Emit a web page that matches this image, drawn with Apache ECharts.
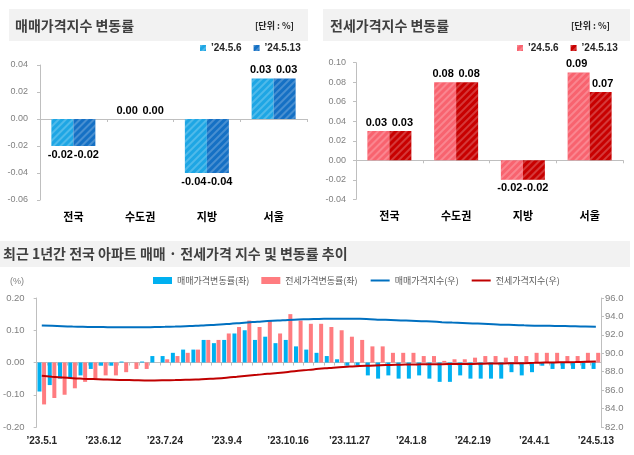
<!DOCTYPE html>
<html><head><meta charset="utf-8">
<script src="https://cdn.jsdelivr.net/npm/echarts@6/dist/echarts.min.js"></script>
<style>
html,body{margin:0;padding:0;background:#fff;width:634px;height:455px;overflow:hidden}
#a,#b,#c{position:absolute}
#a{left:0;top:0;width:317px;height:235px}
#b{left:317px;top:0;width:317px;height:235px}
#c{left:0;top:235px;width:634px;height:220px}
</style></head><body>
<div id="a"></div><div id="b"></div><div id="c"></div>
<script>
// ---------- data ----------
const regionCats = ['전국', '수도권', '지방', '서울'];
const legendPrev = '\u201924.5.6';
const legendCurr = '\u201924.5.13';
const salePrev = [-0.02, 0.00, -0.04, 0.03];
const saleCurr = [-0.02, 0.00, -0.04, 0.03];
const jeonsePrev = [0.03, 0.08, -0.02, 0.09];
const jeonseCurr = [0.03, 0.08, -0.02, 0.07];

const weeks = [
  '\u201923.5.1','\u201923.5.8','\u201923.5.15','\u201923.5.22','\u201923.5.29','\u201923.6.5','\u201923.6.12','\u201923.6.19','\u201923.6.26',
  '\u201923.7.3','\u201923.7.10','\u201923.7.17','\u201923.7.24','\u201923.7.31','\u201923.8.7','\u201923.8.14','\u201923.8.21','\u201923.8.28',
  '\u201923.9.4','\u201923.9.11','\u201923.9.18','\u201923.9.25','\u201923.10.2','\u201923.10.9','\u201923.10.16','\u201923.10.23','\u201923.10.30',
  '\u201923.11.6','\u201923.11.13','\u201923.11.20','\u201923.11.27','\u201923.12.4','\u201923.12.11','\u201923.12.18','\u201923.12.25',
  '\u201924.1.1','\u201924.1.8','\u201924.1.15','\u201924.1.22','\u201924.1.29','\u201924.2.5','\u201924.2.12','\u201924.2.19','\u201924.2.26',
  '\u201924.3.4','\u201924.3.11','\u201924.3.18','\u201924.3.25','\u201924.4.1','\u201924.4.8','\u201924.4.15','\u201924.4.22','\u201924.4.29',
  '\u201924.5.6','\u201924.5.13'
];
const saleChange = [
  -0.09, -0.07, -0.05, -0.05, -0.04, -0.02, -0.01, -0.01, 0.003, 0.00,
  0.003, 0.02, 0.02, 0.03, 0.04, 0.04, 0.07, 0.06, 0.07, 0.09,
  0.10, 0.07, 0.08, 0.06, 0.07, 0.05, 0.04, 0.03, 0.02, 0.01,
  -0.01, -0.01, -0.04, -0.05, -0.04, -0.05, -0.05, -0.04, -0.05, -0.06,
  -0.06, -0.04, -0.05, -0.05, -0.05, -0.05, -0.03, -0.04, -0.03, -0.01,
  -0.02, -0.02, -0.02, -0.02, -0.02
];
const jeonseChange = [
  -0.13, -0.11, -0.10, -0.08, -0.06, -0.05, -0.04, -0.04, -0.03, -0.02,
  -0.02, 0.00, 0.01, 0.02, 0.03, 0.04, 0.07, 0.07, 0.09, 0.11,
  0.13, 0.11, 0.13, 0.09, 0.15, 0.13, 0.12, 0.12, 0.11, 0.10,
  0.08, 0.07, 0.05, 0.05, 0.03, 0.03, 0.03, 0.02, 0.02, 0.005,
  0.01, 0.01, 0.015, 0.02, 0.02, 0.015, 0.02, 0.02, 0.03, 0.03,
  0.03, 0.02, 0.02, 0.03, 0.03
];
const saleIndex = [
  93.02, 92.98, 92.94, 92.90, 92.87, 92.85, 92.84, 92.83, 92.83, 92.83,
  92.83, 92.85, 92.87, 92.90, 92.94, 92.98, 93.05, 93.10, 93.17, 93.25,
  93.35, 93.42, 93.50, 93.55, 93.62, 93.66, 93.70, 93.73, 93.75, 93.76,
  93.75, 93.74, 93.70, 93.65, 93.62, 93.57, 93.53, 93.49, 93.44, 93.38,
  93.33, 93.29, 93.24, 93.20, 93.15, 93.10, 93.07, 93.03, 93.00, 92.99,
  92.97, 92.95, 92.93, 92.91, 92.89
];
const jeonseIndex = [
  87.55, 87.45, 87.36, 87.29, 87.24, 87.20, 87.16, 87.12, 87.10, 87.08,
  87.06, 87.06, 87.07, 87.09, 87.12, 87.15, 87.21, 87.27, 87.35, 87.45,
  87.56, 87.66, 87.77, 87.85, 87.98, 88.10, 88.20, 88.31, 88.40, 88.49,
  88.56, 88.62, 88.66, 88.70, 88.73, 88.76, 88.79, 88.80, 88.82, 88.82,
  88.83, 88.84, 88.85, 88.87, 88.89, 88.90, 88.92, 88.93, 88.96, 88.99,
  89.01, 89.03, 89.05, 89.08, 89.10
];

// ---------- styles ----------
const KR = '"Noto Sans CJK KR", "Noto Sans", sans-serif';
const NUM = '"Liberation Sans", Arial, sans-serif';
const AXIS_GRAY = '#bfbfbf';
const LABEL_GRAY = '#808080';

function hatch() {
  return { symbol: 'rect', symbolSize: 1, dashArrayX: [1, 0], dashArrayY: [1.5, 2.5],
           rotation: -Math.PI / 4, color: 'rgba(255,255,255,0.22)' };
}
function barData(vals) {
  return vals.map(v => ({ value: v, label: { position: v < 0 ? 'bottom' : 'top' } }));
}

function topChart(el, cfg) {
  const chart = echarts.init(document.getElementById(el), null, { renderer: 'canvas' });
  const labelCfg = (dx) => ({ show: true, distance: 3, offset: [dx, 0], formatter: p => p.value.toFixed(2),
    fontSize: 11, fontWeight: 'bold', color: '#000', fontFamily: NUM });
  chart.setOption({
    animation: false,
    graphic: [
      { type: 'rect', shape: cfg.bg, style: { fill: '#f2f2f2' }, z: -1 },
      { type: 'text', x: cfg.titleX, y: 26, style: { text: cfg.title, fontSize: 14, fontWeight: 'bold',
        fontFamily: KR, fill: '#404040', verticalAlign: 'middle' } },
      { type: 'text', x: cfg.unitX, y: 26, style: { text: '[단위 : %]', fontSize: 9, fontWeight: 'bold',
        fontFamily: KR, fill: '#262626', align: 'right', verticalAlign: 'middle' } }
    ],
    legend: { left: cfg.legendX, top: 43, padding: 0, itemWidth: 6, itemHeight: 6, itemGap: 12, icon: 'rect',
      textStyle: { fontSize: 10, fontWeight: 'bold', color: '#262626', fontFamily: NUM },
      data: [legendPrev, legendCurr] },
    grid: { left: cfg.grid[0], top: cfg.grid[1], width: 267, height: cfg.grid[2] },
    xAxis: [
      { type: 'category', data: regionCats, axisLine: { show: false, onZero: false }, axisTick: { show: false },
        axisLabel: { fontSize: 11, fontWeight: 'bold', color: '#000', fontFamily: KR, margin: 11 } },
      { type: 'category', data: regionCats, position: 'bottom',
        axisLine: { onZero: true, lineStyle: { color: AXIS_GRAY } },
        axisTick: { show: true, length: 3, lineStyle: { color: AXIS_GRAY } }, axisLabel: { show: false } }
    ],
    yAxis: { type: 'value', min: cfg.yMin, max: cfg.yMax, interval: 0.02,
      axisLine: { show: true, lineStyle: { color: AXIS_GRAY } },
      axisTick: { show: true, length: 3, lineStyle: { color: AXIS_GRAY } },
      splitLine: { show: false },
      axisLabel: { formatter: v => v.toFixed(2), fontSize: 9, color: LABEL_GRAY, fontFamily: NUM, margin: cfg.yMargin } },
    series: [
      { name: legendPrev, type: 'bar', data: barData(cfg.prev), barWidth: 22, barGap: '0%',
        itemStyle: { color: cfg.colors[0], decal: hatch() }, label: labelCfg(-2) },
      { name: legendCurr, type: 'bar', data: barData(cfg.curr), barWidth: 22, barGap: '0%',
        itemStyle: { color: cfg.colors[1], decal: hatch() }, label: labelCfg(2) }
    ]
  });
}

topChart('a', { title: '매매가격지수 변동률', bg: { x: 9, y: 9, width: 299, height: 32 }, titleX: 15, unitX: 294,
  legendX: 200, grid: [40, 65, 135], yMin: -0.06, yMax: 0.04, yMargin: 12,
  prev: salePrev, curr: saleCurr, colors: ['#1EA6E4', '#1570C4'] });
topChart('b', { title: '전세가격지수 변동률', bg: { x: 6, y: 9, width: 307, height: 32 }, titleX: 13, unitX: 293,
  legendX: 200, grid: [39, 62.7, 136.6], yMin: -0.04, yMax: 0.10, yMargin: 10,
  prev: jeonsePrev, curr: jeonseCurr, colors: ['#F8636F', '#C80000'] });

// ---------- bottom chart ----------
const noSymbol = { color: 'rgba(0,0,0,0)', borderColor: 'rgba(0,0,0,0)', borderWidth: 0 };
const c = echarts.init(document.getElementById('c'), null, { renderer: 'canvas' });
c.setOption({
  animation: false,
  graphic: [
    { type: 'rect', shape: { x: 0, y: 6, width: 630, height: 26 }, style: { fill: '#f2f2f2' }, z: -1 },
    { type: 'text', x: 3, y: 19, style: { text: '최근 1년간 전국 아파트 매매 · 전세가격 지수 및 변동률 추이',
      fontSize: 14, fontWeight: 'bold', fontFamily: KR, fill: '#404040', verticalAlign: 'middle' } },
    { type: 'text', x: 10, y: 47, style: { text: '(%)', fontSize: 9, fontFamily: NUM, fill: LABEL_GRAY, verticalAlign: 'middle' } }
  ],
  legend: { left: 153, top: 41, padding: 0, itemWidth: 19, itemHeight: 7, itemGap: 12,
    textStyle: { fontSize: 9, color: '#595959', fontFamily: KR },
    data: [{ name: '매매가격변동률(좌)', icon: 'rect' }, { name: '전세가격변동률(좌)', icon: 'rect' },
           { name: '매매가격지수(우)', itemStyle: noSymbol }, { name: '전세가격지수(우)', itemStyle: noSymbol }] },
  grid: { left: 35, top: 63, width: 566, height: 129 },
  xAxis: [
    { type: 'category', data: weeks, axisLine: { show: false, onZero: false }, axisTick: { show: false },
      axisLabel: { interval: 5, fontSize: 10, fontWeight: 'bold', color: '#262626', fontFamily: NUM, margin: 9 } },
    { type: 'category', data: weeks, position: 'bottom',
      axisLine: { onZero: true, lineStyle: { color: AXIS_GRAY } },
      axisTick: { show: true, interval: 0, length: 3, lineStyle: { color: AXIS_GRAY } }, axisLabel: { show: false } }
  ],
  yAxis: [
    { type: 'value', min: -0.2, max: 0.2, interval: 0.1, position: 'left',
      axisLine: { show: true, lineStyle: { color: AXIS_GRAY } },
      axisTick: { show: true, length: 3, lineStyle: { color: AXIS_GRAY } }, splitLine: { show: false },
      axisLabel: { formatter: v => v.toFixed(2), fontSize: 9.5, color: LABEL_GRAY, fontFamily: NUM, margin: 12 } },
    { type: 'value', min: 82, max: 96, interval: 2, position: 'right',
      axisLine: { show: true, lineStyle: { color: AXIS_GRAY } },
      axisTick: { show: true, length: 3, lineStyle: { color: AXIS_GRAY } }, splitLine: { show: false },
      axisLabel: { formatter: v => v.toFixed(1), fontSize: 9.5, color: LABEL_GRAY, fontFamily: NUM, margin: 4 } }
  ],
  series: [
    { name: '매매가격변동률(좌)', type: 'bar', xAxisIndex: 0, yAxisIndex: 0, data: saleChange,
      barWidth: 4, barGap: '15%', itemStyle: { color: '#00B0F0' } },
    { name: '전세가격변동률(좌)', type: 'bar', xAxisIndex: 0, yAxisIndex: 0, data: jeonseChange,
      barWidth: 4, barGap: '15%', itemStyle: { color: '#FF7C80' } },
    { name: '매매가격지수(우)', type: 'line', xAxisIndex: 0, yAxisIndex: 1, data: saleIndex,
      smooth: true, symbol: 'none', lineStyle: { width: 2, color: '#0070C0' }, itemStyle: { color: '#0070C0' } },
    { name: '전세가격지수(우)', type: 'line', xAxisIndex: 0, yAxisIndex: 1, data: jeonseIndex,
      smooth: true, symbol: 'none', lineStyle: { width: 2, color: '#C00000' }, itemStyle: { color: '#C00000' } }
  ]
});
</script>
</body></html>
